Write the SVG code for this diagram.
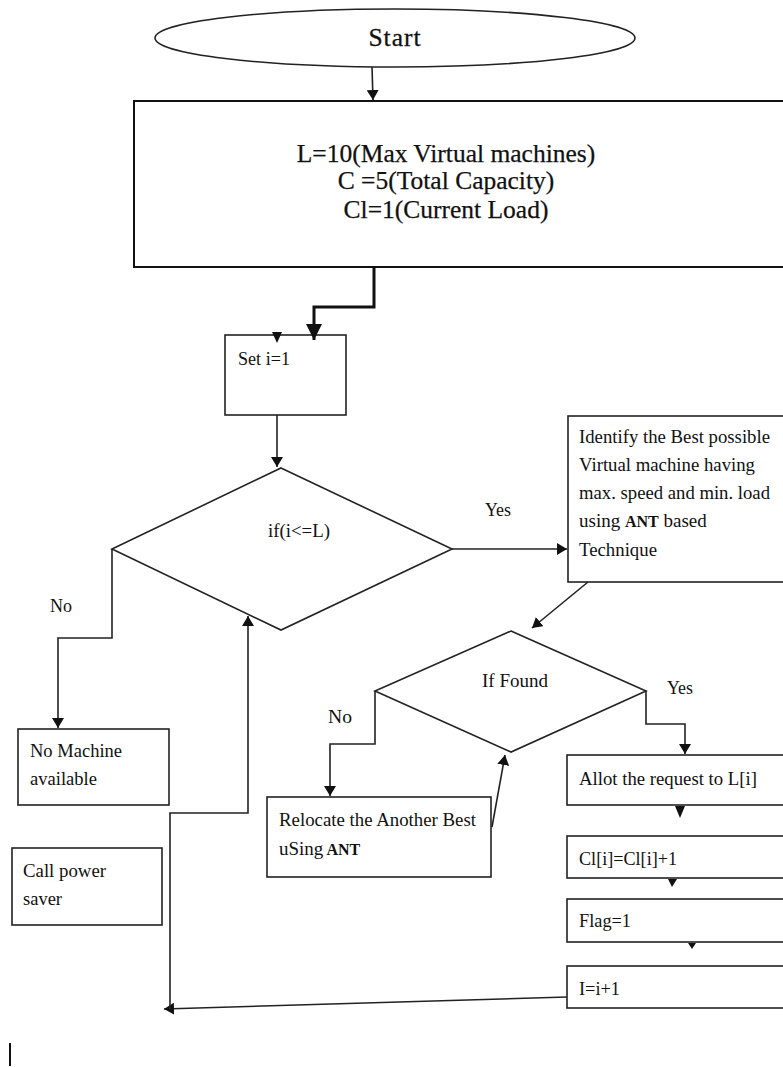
<svg xmlns="http://www.w3.org/2000/svg" width="783" height="1067" viewBox="0 0 783 1067">
<style>
.shape{fill:#fff;stroke:#222;stroke-width:1.6}
.big{fill:#fff;stroke:#111;stroke-width:2}
.t{font-family:"Liberation Serif","Times New Roman",serif;fill:#111;font-size:19px}
.tl{font-family:"Liberation Serif","Times New Roman",serif;fill:#111;font-size:25.5px}
.c{fill:none;stroke:#222;stroke-width:1.6}
.ah{fill:#111}
</style>
<defs>
<marker id="arr" markerUnits="userSpaceOnUse" markerWidth="10" markerHeight="12" viewBox="0 0 10 12" refX="10" refY="6" orient="auto"><path d="M0,0 L10,6 L0,12 z" fill="#111"/></marker>
<marker id="arrBig" markerUnits="userSpaceOnUse" markerWidth="16" markerHeight="16" viewBox="0 0 16 16" refX="16" refY="8" orient="auto"><path d="M0,0 L16,8 L0,16 z" fill="#111"/></marker>
</defs>
<rect width="783" height="1067" fill="#fff"/>

<g id="start">
<ellipse class="shape" cx="395" cy="38" rx="240" ry="29"/>
<text class="tl" x="395" y="46" text-anchor="middle" font-size="30" letter-spacing="1" stroke="#111" stroke-width="0.3">Start</text>
</g>

<g id="init">
<rect class="big" x="134" y="101" width="670" height="166"/>
<text class="tl" x="446" y="162" text-anchor="middle" stroke="#111" stroke-width="0.25">L=10(Max Virtual machines)</text>
<text class="tl" x="446" y="189" text-anchor="middle" stroke="#111" stroke-width="0.25">C =5(Total Capacity)</text>
<text class="tl" x="446" y="218" text-anchor="middle" stroke="#111" stroke-width="0.25">Cl=1(Current Load)</text>
</g>

<g id="set-i">
<rect class="shape" x="225" y="335" width="121" height="80"/>
<text class="t" x="238" y="365" textLength="52" lengthAdjust="spacingAndGlyphs">Set i=1</text>
</g>

<g id="cond-i">
<polygon class="shape" points="281,468 452,549 281,630 112,549"/>
<text class="t" x="299" y="537" text-anchor="middle" textLength="62" lengthAdjust="spacingAndGlyphs">if(i&lt;=L)</text>
</g>

<g id="identify">
<rect class="shape" x="568" y="416" width="230" height="166"/>
<text class="t" x="579" y="443" textLength="191" lengthAdjust="spacingAndGlyphs">Identify the Best possible</text>
<text class="t" x="579" y="471" textLength="176" lengthAdjust="spacingAndGlyphs">Virtual machine  having</text>
<text class="t" x="579" y="499" textLength="191" lengthAdjust="spacingAndGlyphs">max. speed and min. load</text>
<text class="t" x="579" y="527">using <tspan font-weight="bold" font-size="16">ANT</tspan>  based</text>
<text class="t" x="579" y="556" textLength="78" lengthAdjust="spacingAndGlyphs">Technique</text>
</g>

<g id="cond-found">
<polygon class="shape" points="511,631 646,691 511,752 375,691"/>
<text class="t" x="515" y="687" text-anchor="middle" textLength="66" lengthAdjust="spacingAndGlyphs">If Found</text>
</g>

<g id="no-machine">
<rect class="shape" x="18" y="729" width="151" height="76"/>
<text class="t" x="30" y="757" textLength="92" lengthAdjust="spacingAndGlyphs">No Machine</text>
<text class="t" x="30" y="785" textLength="67" lengthAdjust="spacingAndGlyphs">available</text>
</g>

<g id="power-saver">
<rect class="shape" x="12" y="848" width="150" height="77"/>
<text class="t" x="23" y="877" textLength="83" lengthAdjust="spacingAndGlyphs">Call power</text>
<text class="t" x="23" y="905" textLength="39" lengthAdjust="spacingAndGlyphs">saver</text>
</g>

<g id="relocate">
<rect class="shape" x="267" y="797" width="224" height="80"/>
<text class="t" x="279" y="826" textLength="197" lengthAdjust="spacingAndGlyphs">Relocate the Another Best</text>
<text class="t" x="279" y="855">uSing<tspan font-weight="bold" font-size="16"> ANT</tspan></text>
</g>

<g id="allot">
<rect class="shape" x="567" y="755" width="230" height="50"/>
<text class="t" x="579" y="785" textLength="178" lengthAdjust="spacingAndGlyphs">Allot the request  to L[i]</text>
</g>

<g id="cl-inc">
<rect class="shape" x="567" y="836" width="230" height="42"/>
<text class="t" x="579" y="865" textLength="98" lengthAdjust="spacingAndGlyphs">Cl[i]=Cl[i]+1</text>
</g>

<g id="flag">
<rect class="shape" x="567" y="899" width="230" height="43"/>
<text class="t" x="579" y="927" textLength="52" lengthAdjust="spacingAndGlyphs">Flag=1</text>
</g>

<g id="i-inc">
<rect class="shape" x="567" y="966" width="230" height="42"/>
<text class="t" x="579" y="995" textLength="41" lengthAdjust="spacingAndGlyphs">I=i+1</text>
</g>

<g id="connectors">
<path class="c" d="M372,67 L373,100" marker-end="url(#arr)"/>
<path d="M374,267 V307 H314 V340" fill="none" stroke="#111" stroke-width="3" marker-end="url(#arrBig)"/>
<polygon class="ah" points="272,332 282,332 277,343"/>
<path class="c" d="M277,415 V467" marker-end="url(#arr)"/>
<path class="c" d="M452,549 H567" marker-end="url(#arr)"/>
<path class="c" d="M112,549 V638 H58 V728" marker-end="url(#arr)"/>
<path class="c" d="M588,582 L532,628" marker-end="url(#arr)"/>
<path class="c" d="M646,691 V724 H685 V754" marker-end="url(#arr)"/>
<path class="c" d="M375,691 V744 H330 V796" marker-end="url(#arr)"/>
<path class="c" d="M492,827 L505,755" marker-end="url(#arr)"/>
<polygon class="ah" points="675,806 685,806 680,818"/>
<polygon class="ah" points="668,879 677,879 672,887"/>
<polygon class="ah" points="688,943 696,943 692,949"/>
<path class="c" d="M567,997 L164,1009" marker-end="url(#arr)"/>
<path class="c" d="M170,1009 V813 H248 V616" marker-end="url(#arr)"/>
<text class="t" x="498" y="516" text-anchor="middle" textLength="26" lengthAdjust="spacingAndGlyphs">Yes</text>
<text class="t" x="61" y="612" text-anchor="middle" textLength="22" lengthAdjust="spacingAndGlyphs">No</text>
<text class="t" x="680" y="694" text-anchor="middle" textLength="26" lengthAdjust="spacingAndGlyphs">Yes</text>
<text class="t" x="340" y="723" text-anchor="middle" textLength="24" lengthAdjust="spacingAndGlyphs">No</text>
</g>
<line x1="10" y1="1043" x2="10" y2="1066" stroke="#111" stroke-width="2"/>
</svg>
